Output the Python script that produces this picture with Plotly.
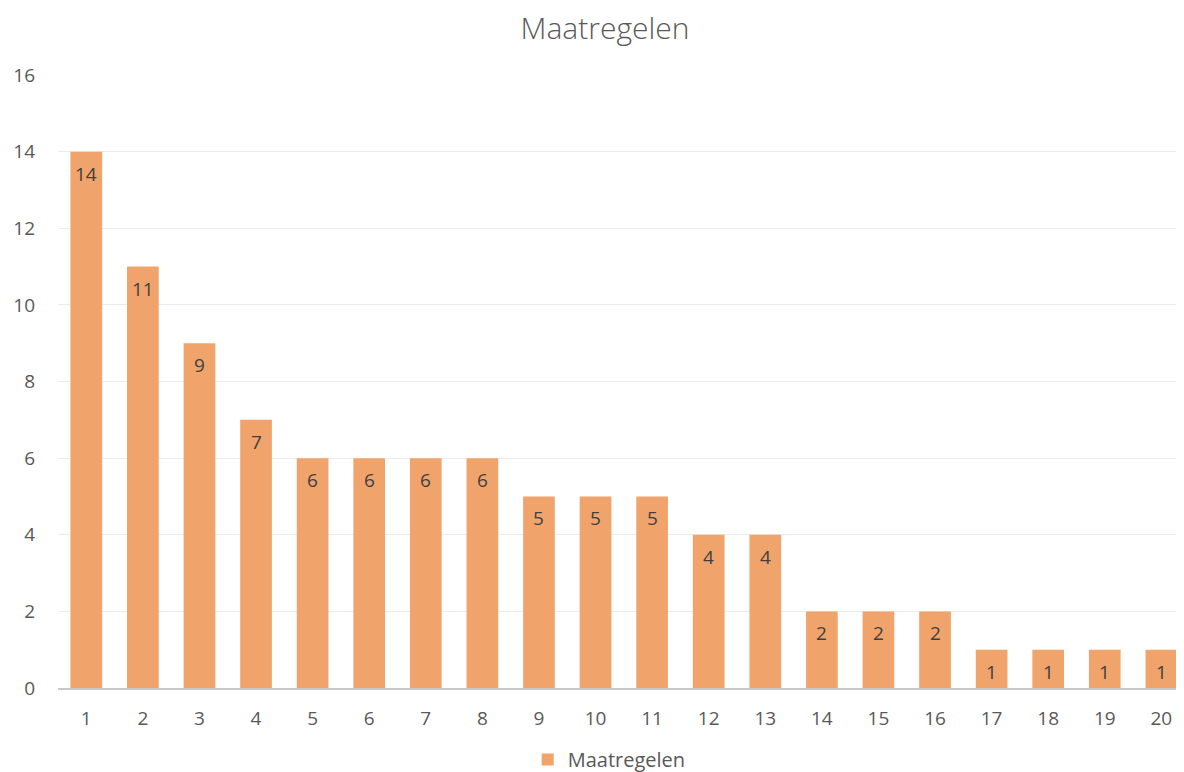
import plotly.graph_objects as go

categories = [str(i) for i in range(1, 21)]
values = [14, 11, 9, 7, 6, 6, 6, 6, 5, 5, 5, 4, 4, 2, 2, 2, 1, 1, 1, 1]
series_name = "Maatregelen"
y_ticks = [0, 2, 4, 6, 8, 10, 12, 14, 16]

FONT = "Open Sans, Liberation Sans, sans-serif"

# page body has an 8px default margin -> figure is drawn 8px in from the top-left
W, H = 1176, 764

fig = go.Figure()
fig.add_trace(go.Bar(
    x=categories, y=values, name=series_name,
    marker=dict(color="#F0A46C", line=dict(width=0)),
    showlegend=True, hoverinfo="x+y",
))

for i, v in enumerate(values):
    fig.add_annotation(x=i, y=v, xref="x", yref="y", text=str(v), showarrow=False,
                       xanchor="center", yanchor="middle", yshift=-22,
                       font=dict(family=FONT, size=19, color="#404040"))

fig.update_layout(
    width=W, height=H,
    paper_bgcolor="white", plot_bgcolor="white",
    margin=dict(l=49.5, r=0, t=67, b=84, autoexpand=False),
    bargap=0.44,
    title=dict(text="Maatregelen", x=597 / W, xanchor="center",
               y=1 - 20 / H, yanchor="middle",
               font=dict(family=FONT, size=30, color="#595959", weight=300)),
    font=dict(family=FONT, color="#595959", size=19),
    legend=dict(orientation="h", x=0.4895, xanchor="center", y=-0.085, yanchor="top",
                font=dict(family=FONT, size=20, color="#595959")),
)
fig.update_yaxes(range=[0, 16], tickvals=y_ticks, showgrid=True, gridcolor="#EBEBEB",
                 gridwidth=1, zeroline=False, showline=False, automargin=False,
                 tickfont=dict(family=FONT, size=19, color="#595959"),
                 ticklabelstandoff=22)
fig.update_xaxes(type="category", range=[-0.5, 19.4], showline=True, linecolor="#C8C8C8",
                 linewidth=2, showgrid=False, automargin=False,
                 tickfont=dict(family=FONT, size=19, color="#595959"),
                 ticklabelstandoff=12)

fig.write_html("out.html")
